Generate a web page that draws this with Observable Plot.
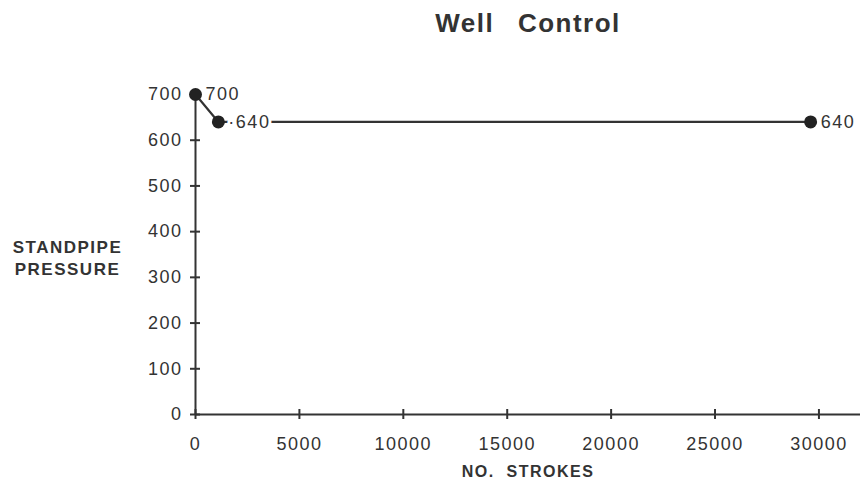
<!DOCTYPE html>
<html>
<head>
<meta charset="utf-8">
<script src="https://cdn.jsdelivr.net/npm/d3@7"></script>
<script src="https://cdn.jsdelivr.net/npm/@observablehq/plot@0.6"></script>
<style>
  html, body { margin: 0; padding: 0; background: white; }
  #title {
    width: 863px; height: 60px; box-sizing: border-box;
    padding-top: 10px; padding-left: 193px;
    text-align: center;
    font: bold 26px/26px "Liberation Sans", Arial, sans-serif;
    letter-spacing: 1.5px; word-spacing: 15px;
    color: #333;
  }
  #chart svg text { letter-spacing: 1.5px; }
</style>
</head>
<body>
<div id="title">Well Control</div>
<div id="chart"></div>
<script>
const titleText = "Well Control";
const xLabel = "NO.  STROKES";
const yLabel = "STANDPIPE\nPRESSURE";

const strokes = [0, 1100, 29600];
const pressure = [700, 640, 640];
const pointLabels = ["700", "·640", "640"];

const xTicks = [0, 5000, 10000, 15000, 20000, 25000, 30000];
const yTicks = [0, 100, 200, 300, 400, 500, 600, 700];

document.getElementById("title").textContent = titleText;

const data = strokes.map((s, i) => ({x: s, y: pressure[i], label: pointLabels[i]}));
const ink = "#333";

const chart = Plot.plot({
  width: 863,
  height: 420,
  marginTop: 34,
  marginBottom: 66,
  marginLeft: 195,
  marginRight: 3,
  x: {domain: [0, 32000]},
  y: {domain: [0, 700]},
  style: {fontFamily: "'Liberation Sans', Arial, sans-serif", color: ink, background: "white", overflow: "visible"},
  marks: [
    Plot.ruleY([0], {stroke: ink, strokeWidth: 2}),
    Plot.ruleX([0], {stroke: ink, strokeWidth: 2}),
    Plot.ruleX(xTicks, {x: d => d, y1: 0, y2: 0, insetTop: -5, insetBottom: -5, stroke: ink, strokeWidth: 2}),
    Plot.ruleY(yTicks, {y: d => d, x1: 0, x2: 0, insetLeft: -5, insetRight: -5, stroke: ink, strokeWidth: 2}),
    Plot.axisX(xTicks, {tickSize: 0, tickPadding: 23, fontSize: 18, label: null, tickFormat: d => String(d)}),
    Plot.axisY(yTicks, {tickSize: 0, tickPadding: 13, fontSize: 18, label: null, tickFormat: d => String(d)}),
    Plot.line(data, {x: "x", y: "y", stroke: ink, strokeWidth: 2.2}),
    Plot.text(data, {x: "x", y: "y", text: "label", textAnchor: "start", dx: 10, fontSize: 18, fill: ink, stroke: "white", strokeWidth: 6}),
    Plot.dot(data, {x: "x", y: "y", r: 6.5, fill: "#222"}),
    Plot.text([xLabel], {frameAnchor: "bottom", lineAnchor: "top", dy: 51, fontSize: 16, fontWeight: "bold", fill: ink}),
    Plot.text([yLabel], {frameAnchor: "left", dx: -128, dy: 2, textAnchor: "middle", lineAnchor: "middle", lineHeight: 1.3, fontSize: 17, fontWeight: "bold", fill: ink})
  ]
});
document.getElementById("chart").appendChild(chart);
</script>
</body>
</html>
